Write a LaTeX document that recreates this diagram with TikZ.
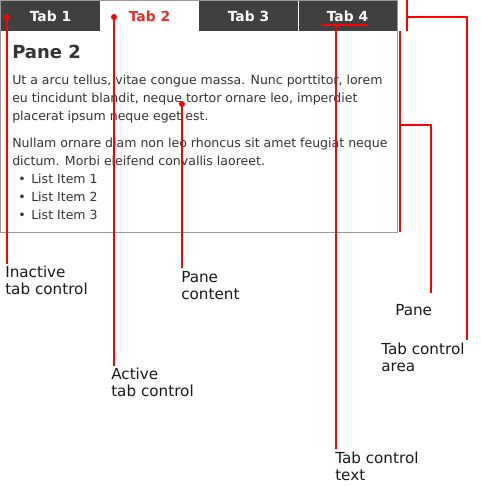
\documentclass[tikz,border=0pt]{standalone}
\usepackage{fontspec}
\setmainfont{DejaVu Sans}
\usetikzlibrary{positioning}
\definecolor{tabgray}{HTML}{404040}
\definecolor{framegray}{HTML}{999999}
\definecolor{txtgray}{HTML}{333333}
\definecolor{callred}{HTML}{FF0000}
\definecolor{activered}{HTML}{E8302A}
\tikzset{
  tabbox/.style={fill=tabgray, text=white, inner sep=0,
    minimum width=74.25pt, minimum height=22.5pt,
    font=\bfseries\fontsize{10.4}{12}\selectfont},
  activetab/.style={fill=white, text=activered},
  bodytext/.style={anchor=base west, inner sep=0, text=txtgray,
    font=\fontsize{9.4}{12}\selectfont},
  calltext/.style={anchor=north west, inner sep=0, align=left,
    text=black!90, font=\fontsize{11.4}{12.75}\selectfont},
  callline/.style={draw=callred, line width=0.9pt},
  calldot/.style={fill=callred, circle, inner sep=0, minimum size=4.5pt}
}
\begin{document}
\begin{tikzpicture}[x=0.75pt, y=-0.75pt]
    \useasboundingbox (0,0) rectangle (480,486);
    % tabs and pane
    \node[inner sep=0, minimum width=297pt, minimum height=150.75pt] (pane) at (199,131.5) {};
    \foreach \i/\cx in {1/50.5, 3/248.5, 4/347.5}
        \node[tabbox] (tab\i) at (\cx,16) {Tab \i};
    \node[tabbox, activetab] (tab2) at (149.5,16) {Tab 2};
    \draw[framegray, line width=0.75pt] (tab1.north west) rectangle (pane.south east);
    \draw[white, line width=0.75pt] (tab3.north east) -- (tab3.south east);
    \node[bodytext, font=\bfseries\fontsize{13.5}{16}\selectfont] (head) at (12,58.3) {Pane 2};
    \foreach \n/\yy/\t in {1/84/{Ut a arcu tellus, vitae congue massa. Nunc porttitor, lorem},
        2/102/{eu tincidunt blandit, neque tortor ornare leo, imperdiet},
        3/120/{placerat ipsum neque eget est.},
        4/147.7/{Nullam ornare diam non leo rhoncus sit amet feugiat neque},
        5/165.7/{dictum. Morbi eleifend convallis laoreet.}}
        \node[bodytext] (line\n) at (12,\yy) {\t};
    \foreach \i/\yy in {1/183.3, 2/201.3, 3/219.3} {
        \node[bodytext] (bullet\i) at (18,\yy) {•};
        \node[bodytext] (item\i) at (31,\yy) {List Item \i};
    }
    % callouts
    \coordinate (inactive) at (7,17);
    \coordinate (active) at (114,17);
    \coordinate (content) at (182,104);
    \coordinate (tabtext) at (336,25);
    \coordinate (ulstart) at (322,25);
    \coordinate (ulend) at (368,25);
    \node[calltext] (inactivelbl) at (5,266) {Inactive\\tab control};
    \node[calltext] (activelbl) at (111,368) {Active\\tab control};
    \node[calltext] (contentlbl) at (181,271) {Pane\\content};
    \node[calltext] (tabtextlbl) at (335,452) {Tab control\\text};
    \node[calltext] (panelbl) at (395,304) {Pane};
    \node[calltext] (arealbl) at (381,343) {Tab control\\area};
    \draw[callline] (inactive) -- ([yshift=1.5pt]inactive |- inactivelbl.north);
    \draw[callline] (active) -- ([yshift=1.5pt]active |- activelbl.north);
    \draw[callline] (content) -- ([yshift=2.5pt]content |- contentlbl.north);
    \draw[callline] (ulstart) -- (ulend);
    \draw[callline] (tabtext) -- ([yshift=2.5pt]tabtext |- tabtextlbl.north);
    \foreach \c in {inactive, active, content}
        \node[calldot] (dot-\c) at (\c) {};
    % brackets
    \coordinate (panetop) at (400,31);
    \coordinate (panebot) at (400,232);
    \coordinate (panemid) at (400,125);
    \coordinate (paneend) at (431,293);
    \draw[callline] (panetop) -- (panebot);
    \draw[callline] (panemid) -| (paneend);
    \coordinate (areatop) at (407,0);
    \coordinate (areabot) at (407,31);
    \coordinate (areamid) at (407,17);
    \coordinate (areaend) at (467,340);
    \draw[callline] (areatop) -- (areabot);
    \draw[callline] (areamid) -| (areaend);
\end{tikzpicture}
\end{document}
